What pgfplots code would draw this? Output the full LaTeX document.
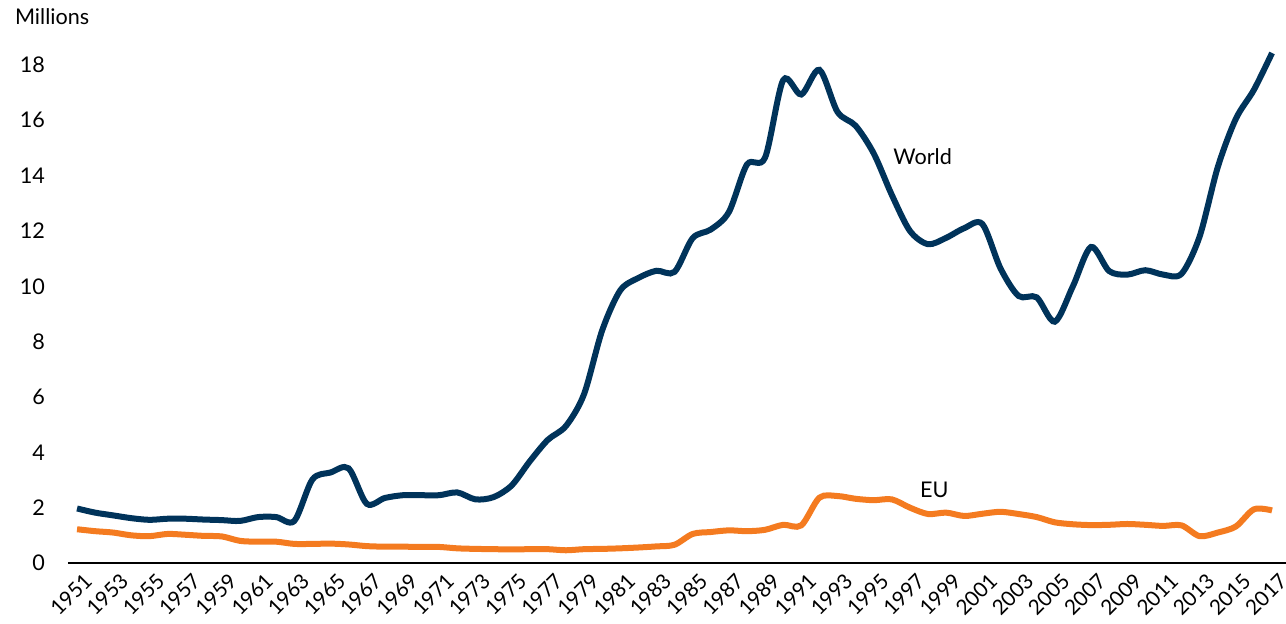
\documentclass[border=0pt]{standalone}
\usepackage{pgfplots}
\pgfplotsset{compat=1.18}
\usepackage{fontspec}
\setmainfont{Lato}
\definecolor{navy}{HTML}{00335A}
\definecolor{orng}{HTML}{F47B20}
\pgfplotstableread{
year world eu
1951 1.97 1.22
1952 1.82 1.15
1953 1.72 1.10
1954 1.62 1.00
1955 1.56 0.97
1956 1.60 1.05
1957 1.60 1.02
1958 1.57 0.98
1959 1.55 0.96
1960 1.52 0.80
1961 1.66 0.77
1962 1.66 0.77
1963 1.52 0.69
1964 3.02 0.69
1965 3.27 0.70
1966 3.42 0.67
1967 2.14 0.61
1968 2.35 0.59
1969 2.45 0.59
1970 2.45 0.58
1971 2.45 0.58
1972 2.55 0.53
1973 2.30 0.51
1974 2.38 0.50
1975 2.80 0.49
1976 3.67 0.50
1977 4.45 0.50
1978 4.95 0.46
1979 6.10 0.50
1980 8.40 0.51
1981 9.85 0.53
1982 10.30 0.56
1983 10.56 0.60
1984 10.52 0.66
1985 11.74 1.05
1986 12.05 1.12
1987 12.68 1.18
1988 14.40 1.15
1989 14.65 1.20
1990 17.45 1.38
1991 16.93 1.36
1992 17.82 2.36
1993 16.30 2.42
1994 15.80 2.32
1995 14.80 2.27
1996 13.30 2.30
1997 12.00 2.00
1998 11.52 1.77
1999 11.75 1.82
2000 12.10 1.70
2001 12.25 1.78
2002 10.65 1.85
2003 9.65 1.77
2004 9.60 1.66
2005 8.72 1.47
2006 10.00 1.40
2007 11.42 1.37
2008 10.55 1.38
2009 10.42 1.41
2010 10.58 1.38
2011 10.42 1.34
2012 10.45 1.36
2013 11.80 0.97
2014 14.30 1.10
2015 16.05 1.32
2016 17.10 1.94
2017 18.43 1.90
}\datatable
\begin{document}
\begin{tikzpicture}
\begin{axis}[
  scale only axis,
  width=609pt, height=262.9pt,
  xmin=1950.5, xmax=2017.77,
  ymin=0, ymax=19,
  axis lines=left,
  axis line style={draw=none},
  clip=false,
  xtick={1951,1953,...,2017},
  ytick={0,2,...,18},
  major tick length=0pt,
  x tick label style={rotate=45, anchor=north east, font=\fontsize{10.4}{12}\selectfont, inner sep=0.5pt, yshift=-4.5pt, xshift=-0.5pt},
  y tick label style={font=\fontsize{10.8}{12}\selectfont, xshift=-8pt},
  xticklabel={\pgfmathprintnumber[1000 sep={}]{\tick}},
  /pgf/number format/assume math mode=true,
  /pgf/number format/1000 sep={},
]
\draw[black, line width=0.6pt] (rel axis cs:0,0) -- (rel axis cs:1,0);
\coordinate (O) at (rel axis cs:0,0);
\addplot[navy, line width=3pt, smooth, tension=0.5] table[x=year, y=world] {\datatable};
\addplot[orng, line width=3pt, smooth, tension=0.5] table[x=year, y=eu] {\datatable};
\node[font=\fontsize{10.8}{12}\selectfont] at (axis cs:1997.7,14.67) {World};
\node[font=\fontsize{10.8}{12}\selectfont] at (axis cs:1998.35,2.64) {EU};
\end{axis}
\node[anchor=west, font=\fontsize{10.8}{12}\selectfont] at ([shift={(-30pt,273pt)}]O) {Millions};
\pgfresetboundingbox
\path ([shift={(-34pt,-30pt)}]O) rectangle ([shift={(609pt,281.5pt)}]O);
\end{tikzpicture}
\end{document}
